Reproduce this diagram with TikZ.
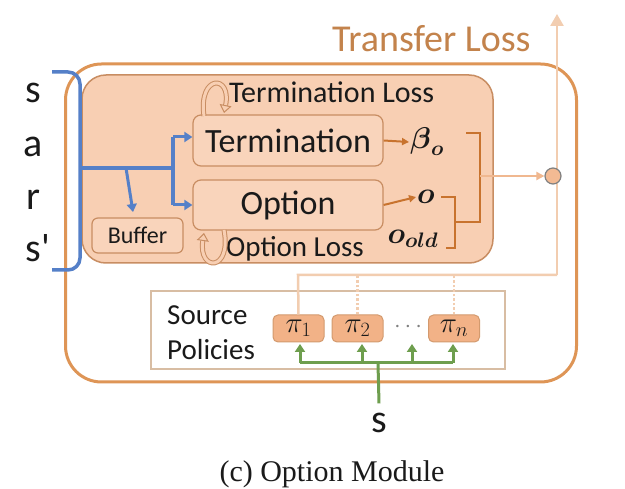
\RequirePackage{fix-cm}
\documentclass[tikz,border=0pt]{standalone}
\usepackage{amsmath}
\usepackage{fontspec}
\setmainfont{Carlito}
\newfontfamily\rawcarl{Carlito}
\newfontfamily\capfont{Liberation Serif}
\usetikzlibrary{arrows.meta}
\definecolor{peach}{HTML}{F8CFB3}
\definecolor{peachbox}{HTML}{F9D4BB}
\definecolor{brownb}{HTML}{C88D62}
\definecolor{outerc}{HTML}{DE9556}
\definecolor{darkor}{HTML}{C8732E}
\definecolor{lightor}{HTML}{F0B890}
\definecolor{translc}{HTML}{F2CDB0}
\definecolor{blueL}{HTML}{5580C8}
\definecolor{greenL}{HTML}{6E9E4E}
\definecolor{srcb}{HTML}{D8BDA3}
\definecolor{pifill}{HTML}{F2B287}
\definecolor{pib}{HTML}{D39A6E}
\definecolor{tlc}{HTML}{C3834C}
\definecolor{txt}{HTML}{1A1A1A}
\tikzset{
  fs/.style={font=\fontsize{#1}{#1}\selectfont},
  modbox/.style={draw=brownb, fill=peachbox, line width=1.2pt, rounded corners=8pt, inner sep=0pt},
  pibox/.style={draw=pib, fill=pifill, line width=1pt, rounded corners=5pt, minimum width=51pt, minimum height=27pt, inner sep=0pt},
  orarrow/.style={draw=darkor, line width=2pt, -{Triangle[length=7pt,width=7pt]}},
  brk/.style={draw=darkor, line width=2.5pt},
  bluel/.style={draw=blueL, line width=3.5pt},
  bluearrow/.style={draw=blueL, line width=3pt, -{Triangle[length=8pt,width=10pt]}},
  greenarrow/.style={draw=greenL, line width=3pt, -{Triangle[length=8pt,width=10pt]}},
  looparrow/.style={draw=brownb, double=peach, double distance=3pt, line width=1pt, -{Triangle[open,length=8pt,width=12pt,fill=peach]}},
}
\begin{document}
\begin{tikzpicture}[x=1pt,y=-1pt, text=txt]
\useasboundingbox (0,0) rectangle (625,489);
\fill[white] (0,0) rectangle (625,489);

% outer box
\node[draw=outerc, line width=3pt, rounded corners=36pt, minimum width=511pt, minimum height=318pt, inner sep=0pt] (outer) at (321,223) {};

% source policies box
\node[draw=srcb, line width=2pt, minimum width=354pt, minimum height=78pt, inner sep=0pt] (src) at (328,330) {};

% pi boxes
\node[pibox, fs=29] (pi1) at (298.5,328.5) {$\pi_1$};
\node[pibox, fs=29] (pi2) at (357.5,328.5) {$\pi_2$};
\node[pibox, fs=29] (pin) at (454,328.5) {$\pi_n$};
\node[fs=24, text=gray] (dots) at (410,327) {$\cdots$};

% transfer line
\coordinate (tA) at (298,275);
\coordinate (tB) at (557,275);
\coordinate (tTop) at (557,14);
\draw[draw=translc, line width=2.5pt] (pi1.north) -- (tA) -- (tB);
\draw[draw=translc, line width=2.5pt, -{Triangle[length=12pt,width=13pt]}] (tB) -- (tTop);
\draw[draw=translc, line width=2.5pt, dotted] (pi2.north) -- (pi2.north |- tA);
\draw[draw=translc, line width=2.5pt, dotted] (pin.north) -- (pin.north |- tA);

% inner module box
\node[draw=brownb, fill=peach, line width=1.5pt, rounded corners=24pt, minimum width=411pt, minimum height=188pt, inner sep=0pt] (inner) at (287.5,169) {};

\node[modbox, minimum width=190pt, minimum height=51pt, fs=34] (term) at (288,140.5) {Termination};
\node[modbox, minimum width=190pt, minimum height=50pt, fs=34] (opt) at (288,205) {Option};
\node[modbox, minimum width=91pt, minimum height=35pt, fs=24, rounded corners=6pt] (buf) at (137.5,235.5) {Buffer};

\node[fs=30, anchor=base west, inner sep=0pt] (tloss) at (229,103) {Termination Loss};
\node[fs=29, anchor=base west, inner sep=0pt] (oloss) at (226,257) {Option Loss};

% loop arrows
\draw[looparrow] (204,116) .. controls (198,74) and (232,74) .. (224,113);
\draw[looparrow] (224,230) .. controls (232,272) and (198,272) .. (204,233);

% outputs
\node[fs=30, inner sep=1pt] (beta) at (427,142) {$\boldsymbol{\beta}_{\boldsymbol{o}}$};
\node[fs=30, inner sep=1pt] (o) at (426,197) {$\boldsymbol{o}$};
\node[fs=30, inner sep=1pt] (oold) at (413,239) {$\boldsymbol{o}_{\boldsymbol{old}}$};
\draw[orarrow] (term.east) -- (beta.west);
\draw[orarrow] (opt.east) -- (o.west);

% brackets
\coordinate (c1) at (455,197);
\coordinate (c2) at (455,248);
\coordinate (cm) at (455,222);
\coordinate (d1) at (480,133);
\coordinate (dm) at (480,222);
\coordinate (dmid) at (480,176);
\draw[brk] (441,197) -- (c1) -- (c2) -- (446,248);
\draw[brk] (466,133) -- (d1) -- (dm) -- (cm);

% circle
\node[circle, draw=gray, fill=pifill!90!white, line width=1.2pt, minimum size=16pt, inner sep=0pt] (circ) at (553,176) {};
\draw[draw=lightor, line width=2pt, -{Triangle[length=8pt,width=8pt]}] (dmid) -- (circ.west);

% Transfer Loss label
\node[fs=38, text=tlc, anchor=base west, inner sep=0pt] (tl) at (332,52) {Transfer Loss};

% blue brace
\coordinate (bTop) at (52,72);
\coordinate (bMid) at (80,168);
\coordinate (bBot) at (52,270);
\coordinate (bJ) at (173,168);
\draw[bluel, rounded corners=12pt] (bTop) -- (80,72) -- (bMid) -- (80,270) -- (bBot);
\draw[bluel] (bMid) -- (bJ);
\draw[bluel] (173,137) -- (173,205);
\draw[bluearrow] (173,137) -- (term.west |- 0,137);
\draw[bluearrow] (173,205) -- (opt.west |- 0,205);
\draw[bluearrow] (126,168) -- (133,212);

% left letters
\node[fs=40, anchor=base, inner sep=0pt] (ls) at (33,103) {s};
\node[fs=40, anchor=base, inner sep=0pt] (la) at (33,157) {a};
\node[fs=40, anchor=base, inner sep=0pt] (lr) at (33,210) {r};
\node[fs=40, anchor=base, inner sep=0pt] (ls2) at (38,262) {\rawcarl s'};

% source policies text
\node[fs=29, anchor=base west, inner sep=0pt] (srct) at (167,325) {Source};
\node[fs=29, anchor=base west, inner sep=0pt] (polt) at (167,360) {Policies};

% green arrows
\node[fs=40, anchor=base, inner sep=0pt] (sb) at (379,433) {s};
\coordinate (gJ) at (378,363);
\coordinate (gL) at (300,363);
\coordinate (gR) at (453,363);
\draw[draw=greenL, line width=3pt] ([yshift=10pt]sb.north) -- (gJ);
\draw[draw=greenL, line width=3pt] (gL) -- (gR);
\draw[greenarrow] (gL) -- (300,344);
\draw[greenarrow] (362,363) -- (362,344);
\draw[greenarrow] (412,363) -- (412,344);
\draw[greenarrow] (gR) -- (453,344);

% caption
\node[font=\capfont\fontsize{30}{30}\selectfont, anchor=base, inner sep=0pt] (cap) at (332,482) {(c) Option Module};
\end{tikzpicture}
\end{document}
